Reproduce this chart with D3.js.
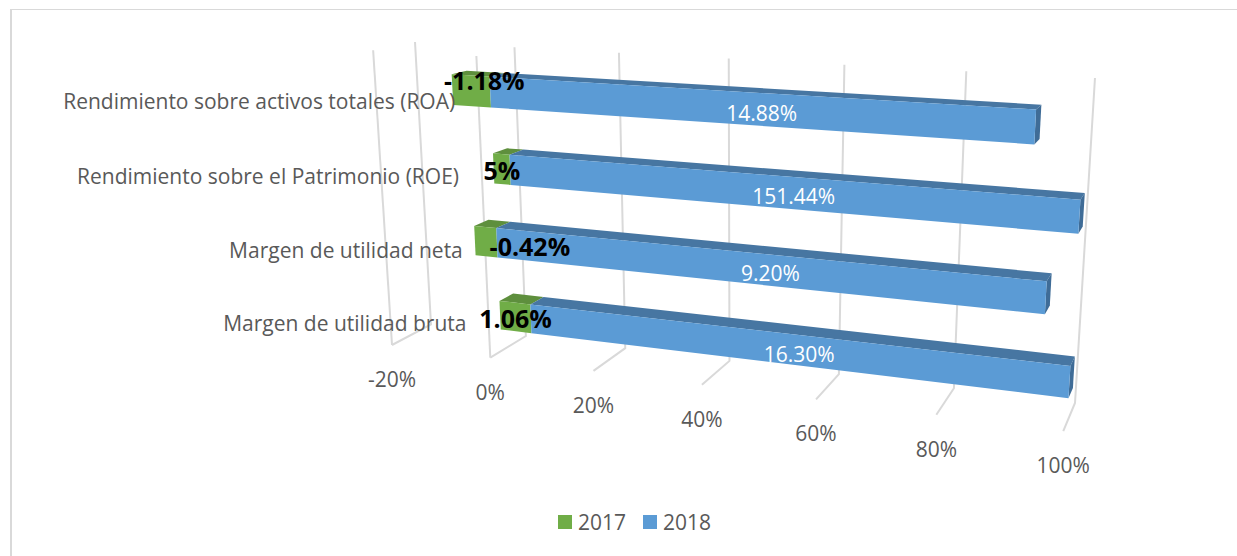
<!DOCTYPE html>
<html>
<head>
<meta charset="utf-8">
<script src="https://cdnjs.cloudflare.com/ajax/libs/d3/7.8.5/d3.min.js"></script>
<style>
    html, body { margin: 0; padding: 0; background: #fff; overflow: hidden; }
    svg { display: block; }
    text { font-family: "Open Sans", sans-serif; }
</style>
</head>
<body>
<div id="chart"></div>
<script>
// Data (bottom row first)
const categories = [
    'Margen de utilidad bruta',
    'Margen de utilidad neta',
    'Rendimiento sobre el Patrimonio (ROE)',
    'Rendimiento sobre activos totales (ROA)',
];
const series_names = ['2017', '2018'];
const values_2017 = [1.06, -0.42, 5, -1.18];
const values_2018 = [16.30, 9.20, 151.44, 14.88];
const labels_2017 = ['1.06%', '-0.42%', '5%', '-1.18%'];
const labels_2018 = ['16.30%', '9.20%', '151.44%', '14.88%'];
const tick_values = [-20, 0, 20, 40, 60, 80, 100];

const chart_width = 1237;
const chart_height = 556;
const colors = { '2017': '#70ad47', '2018': '#5b9bd5' };
const top_colors = { '2017': '#5e8f3d', '2018': '#4776a2' };
const side_color = '#3f6c97';
const grid_color = '#d9d9d9';
const text_color = '#595959';

// Some labels were dragged by hand in the original chart
const label_shift_2017 = [[0, 1], [44, 4], [0, 1], [13, -11]];
const category_shift = [4, 4, 5, 7];

// Camera: pixel position of the box origin and its three axis ends, plus perspective
const origin = [431, 324.5];
const x_end = [1075, 403];
const y_end = [415, 42];
const z_end = [392, 345];
const w = [-0.1362, -0.0489, -0.043];

function project(x, y, z) {
    const d = 1 + w[0] * x + w[1] * y + w[2] * z;
    return [0, 1].map(i => (origin[i]
        + x * (x_end[i] * (1 + w[0]) - origin[i])
        + y * (y_end[i] * (1 + w[1]) - origin[i])
        + z * (z_end[i] * (1 + w[2]) - origin[i])) / d);
}

// Scales
const x_scale = d3.scaleLinear().domain([-20, 100]).range([0, 1]);
const y_scale = d3.scaleBand()
    .domain(categories)
    .range([0, 1])
    .paddingInner(0.6)
    .paddingOuter(0.3);
const z_front = 0.69;
const z_back = 0.31;

// 100% stacked rows
const rows = categories.map((c, i) => {
    const total = Math.abs(values_2017[i]) + Math.abs(values_2018[i]);
    return {
        category: c,
        '2017': values_2017[i] / total * 100,
        '2018': values_2018[i] / total * 100,
    };
});
const stacked = d3.stack()
    .keys(series_names)
    .offset(d3.stackOffsetDiverging)(rows);

const svg = d3.select('#chart')
    .append('svg')
    .attr('width', chart_width)
    .attr('height', chart_height);

// Frame
svg.append('line').attr('x1', 10).attr('x2', chart_width).attr('y1', 9.5).attr('y2', 9.5)
    .attr('stroke', grid_color).attr('stroke-width', 1);
svg.append('line').attr('x1', 11).attr('x2', 11).attr('y1', 9).attr('y2', chart_height)
    .attr('stroke', grid_color).attr('stroke-width', 2);

// Gridlines
const path_line = d3.line();
const grid = svg.append('g')
    .attr('fill', 'none')
    .attr('stroke', grid_color)
    .attr('stroke-width', 2);

grid.selectAll('path.wall')
    .data(tick_values)
    .enter()
    .append('path')
    .attr('class', 'wall')
    .attr('d', d => path_line([
        project(x_scale(d), 0, 1),
        project(x_scale(d), 0, 0),
        project(x_scale(d), 1, 0),
    ]));

grid.selectAll('path.front')
    .data(tick_values.filter(d => d <= 0))
    .enter()
    .append('path')
    .attr('class', 'front')
    .attr('d', d => path_line([
        project(x_scale(d), 0, 1),
        project(x_scale(d), 1, 1),
    ]));

// Tick labels
svg.append('g')
    .selectAll('text')
    .data(tick_values)
    .enter()
    .append('text')
    .attr('x', d => project(x_scale(d), 0, 1)[0])
    .attr('y', d => project(x_scale(d), 0, 1)[1] + 34)
    .attr('text-anchor', 'middle')
    .attr('dominant-baseline', 'central')
    .attr('font-size', 21)
    .attr('fill', text_color)
    .text(d => d + '%');

// Bars
const poly = pts => path_line(pts) + 'Z';
const bars = svg.append('g');

stacked.forEach(layer => {
    const g = bars.append('g');
    const corners = d => {
        const x0 = x_scale(d[0]);
        const x1 = x_scale(d[1]);
        const y0 = y_scale(d.data.category);
        const y1 = y0 + y_scale.bandwidth();
        return { x0, x1, y0, y1 };
    };

    // top face
    g.selectAll('path.top')
        .data(layer)
        .enter()
        .append('path')
        .attr('fill', top_colors[layer.key])
        .attr('d', d => {
            const c = corners(d);
            return poly([
                project(c.x0, c.y1, z_front),
                project(c.x1, c.y1, z_front),
                project(c.x1, c.y1, z_back),
                project(c.x0, c.y1, z_back),
            ]);
        });

    // right end, only the last series shows it
    if (layer.key === '2018') {
        g.selectAll('path.side')
            .data(layer)
            .enter()
            .append('path')
            .attr('fill', side_color)
            .attr('d', d => {
                const c = corners(d);
                return poly([
                    project(c.x1, c.y0, z_front),
                    project(c.x1, c.y1, z_front),
                    project(c.x1, c.y1, z_back),
                    project(c.x1, c.y0, z_back),
                ]);
            });
    }

    // front face
    g.selectAll('path.face')
        .data(layer)
        .enter()
        .append('path')
        .attr('fill', colors[layer.key])
        .attr('d', d => {
            const c = corners(d);
            return poly([
                project(c.x0, c.y0, z_front),
                project(c.x1, c.y0, z_front),
                project(c.x1, c.y1, z_front),
                project(c.x0, c.y1, z_front),
            ]);
        });
});

// Category labels
svg.append('g')
    .selectAll('text')
    .data(categories)
    .enter()
    .append('text')
    .attr('x', d => project(x_scale(-4.4), y_scale(d) + y_scale.bandwidth() / 2, 1)[0])
    .attr('y', (d, i) => project(x_scale(-4.4), y_scale(d) + y_scale.bandwidth() / 2, 1)[1] + category_shift[i])
    .attr('text-anchor', 'end')
    .attr('dominant-baseline', 'central')
    .attr('font-size', 21)
    .attr('fill', text_color)
    .text(d => d);

// Data labels, centred on the drawn face so the middle follows the perspective
const face_centre = d => {
    const y_mid = y_scale(d.data.category) + y_scale.bandwidth() / 2;
    const left = project(x_scale(d[0]), y_mid, z_front);
    const right = project(x_scale(d[1]), y_mid, z_front);
    return [(left[0] + right[0]) / 2, (left[1] + right[1]) / 2];
};

svg.append('g')
    .selectAll('text')
    .data(stacked[1])
    .enter()
    .append('text')
    .attr('x', d => face_centre(d)[0] - 1)
    .attr('y', d => face_centre(d)[1] + 3)
    .attr('text-anchor', 'middle')
    .attr('dominant-baseline', 'central')
    .attr('font-size', 21)
    .attr('fill', '#fff')
    .text((d, i) => labels_2018[i]);

svg.append('g')
    .selectAll('text')
    .data(stacked[0])
    .enter()
    .append('text')
    .attr('x', (d, i) => face_centre(d)[0] + label_shift_2017[i][0])
    .attr('y', (d, i) => face_centre(d)[1] + label_shift_2017[i][1])
    .attr('text-anchor', 'middle')
    .attr('dominant-baseline', 'central')
    .attr('font-size', 25)
    .attr('font-weight', 'bold')
    .attr('fill', '#000')
    .text((d, i) => labels_2017[i]);

// Legend
const legend_x = d3.scaleOrdinal().domain(series_names).range([558, 643]);
const legend = svg.append('g')
    .selectAll('g')
    .data(series_names)
    .enter()
    .append('g')
    .attr('transform', d => `translate(${legend_x(d)}, 515)`);

legend.append('rect')
    .attr('width', 14)
    .attr('height', 14)
    .attr('fill', d => colors[d]);

legend.append('text')
    .attr('x', 20)
    .attr('y', 7)
    .attr('dominant-baseline', 'central')
    .attr('font-size', 21)
    .attr('fill', text_color)
    .text(d => d);
</script>
</body>
</html>
